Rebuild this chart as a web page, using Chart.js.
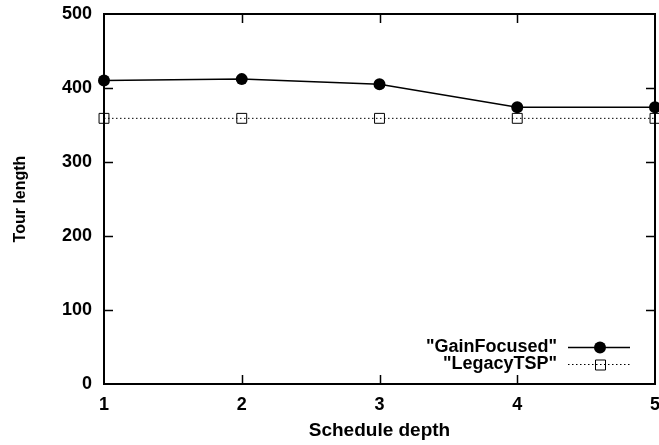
<!DOCTYPE html>
<html>
<head>
<meta charset="utf-8">
<script src="https://cdn.jsdelivr.net/npm/chart.js@4/dist/chart.umd.min.js"></script>
<style>
  html, body { margin: 0; padding: 0; background: #fff; }
  #wrap { width: 659px; height: 445px; }
</style>
</head>
<body>
<div id="wrap"><canvas id="tourChart" width="659" height="445"></canvas></div>
<script>
// schedule depth vs tour length
const depths = [1, 2, 3, 4, 5];
const gainFocused = [410, 412, 405, 374, 374];
const legacyTSP = [359, 359, 359, 359, 359];
const yTicks = [0, 100, 200, 300, 400, 500];

const FONT = 'Liberation Sans, Arial, Helvetica, sans-serif';

// gnuplot-style box: frame on all sides, ticks pointing inward
const framePlugin = {
    id: 'frame',
    afterDatasetsDraw(chart) {
        const { ctx, chartArea: a, scales: { x, y } } = chart;
        ctx.save();
        ctx.strokeStyle = '#000';
        ctx.lineWidth = 2;
        ctx.beginPath();
        ctx.moveTo(a.left, a.top);
        ctx.lineTo(a.right, a.top);
        ctx.lineTo(a.right, a.bottom);
        ctx.stroke();

        ctx.lineWidth = 1.5;
        const len = 9;
        ctx.beginPath();
        x.ticks.forEach(t => {
            if (t.value <= x.min || t.value >= x.max) return;
            const px = Math.round(x.getPixelForValue(t.value)) + 0.5;
            ctx.moveTo(px, a.bottom); ctx.lineTo(px, a.bottom - len);
            ctx.moveTo(px, a.top); ctx.lineTo(px, a.top + len);
        });
        y.ticks.forEach(t => {
            if (t.value <= y.min || t.value >= y.max) return;
            const py = Math.round(y.getPixelForValue(t.value)) + 0.5;
            ctx.moveTo(a.left, py); ctx.lineTo(a.left + len, py);
            ctx.moveTo(a.right, py); ctx.lineTo(a.right - len, py);
        });
        ctx.stroke();
        ctx.restore();
    }
};

// key in the lower right: label right-aligned, sample to its right
const keyPlugin = {
    id: 'key',
    afterDraw(chart) {
        const { ctx } = chart;
        const textRight = 557, lineL = 568, lineR = 630, mid = 600;
        const rows = [347, 364];
        ctx.save();
        ctx.font = 'bold 18px ' + FONT;
        ctx.textAlign = 'right';
        ctx.textBaseline = 'middle';
        chart.data.datasets.forEach((ds, i) => {
            const yy = rows[i] + 0.5;
            ctx.fillStyle = '#000';
            ctx.fillText('"' + ds.label + '"', textRight, yy);
            ctx.strokeStyle = ds.borderColor;
            ctx.lineWidth = ds.borderWidth;
            ctx.setLineDash(ds.borderDash || []);
            ctx.beginPath();
            ctx.moveTo(lineL, yy);
            ctx.lineTo(lineR, yy);
            ctx.stroke();
            ctx.setLineDash([]);
            ctx.fillStyle = ds.pointBackgroundColor;
            ctx.strokeStyle = ds.pointBorderColor;
            ctx.lineWidth = ds.pointBorderWidth;
            ctx.beginPath();
            if (ds.pointStyle === 'circle') {
                ctx.arc(mid, yy, ds.pointRadius, 0, Math.PI * 2);
                ctx.fill();
            } else {
                const s = ds.pointRadius * Math.SQRT1_2;
                ctx.rect(Math.round(mid - s) + 0.5, Math.round(yy - s), Math.round(2 * s), Math.round(2 * s));
                ctx.stroke();
            }
        });
        ctx.restore();
    }
};

new Chart(document.getElementById('tourChart'), {
    type: 'line',
    data: {
        datasets: [
            {
                label: 'GainFocused',
                data: depths.map((d, i) => ({ x: d, y: gainFocused[i] })),
                borderColor: '#000',
                borderWidth: 1.5,
                pointStyle: 'circle',
                pointRadius: 6,
                pointBorderWidth: 0,
                pointBackgroundColor: '#000',
                pointBorderColor: '#000',
                clip: false
            },
            {
                label: 'LegacyTSP',
                data: depths.map((d, i) => ({ x: d, y: legacyTSP[i] })),
                borderColor: '#000',
                borderWidth: 1,
                borderDash: [1.5, 2.5],
                pointStyle: 'rect',
                pointRadius: 7,
                pointBorderWidth: 1,
                pointBackgroundColor: 'rgba(0,0,0,0)',
                pointBorderColor: '#000',
                clip: false
            }
        ]
    },
    options: {
        responsive: false,
        animation: false,
        layout: { autoPadding: false, padding: { top: 14, right: 4, left: 0, bottom: 0 } },
        plugins: { legend: { display: false }, tooltip: { enabled: false } },
        scales: {
            x: {
                type: 'linear',
                min: 1, max: 5,
                border: { display: true, color: '#000', width: 2 },
                grid: { display: false, drawTicks: false },
                ticks: {
                    stepSize: 1,
                    padding: 10,
                    color: '#000',
                    font: { family: FONT, size: 18, weight: 'bold' }
                },
                title: {
                    display: true,
                    text: 'Schedule depth',
                    color: '#000',
                    font: { family: FONT, size: 19, weight: 'bold' },
                    padding: { top: 0, bottom: 3 }
                },
                afterFit(s) { s.height = 61; s.paddingLeft = 0; s.paddingRight = 0; }
            },
            y: {
                min: 0, max: 500,
                border: { display: true, color: '#000', width: 2 },
                grid: { display: false, drawTicks: false },
                afterBuildTicks(s) { s.ticks = yTicks.map(v => ({ value: v })); },
                ticks: {
                    padding: 12,
                    color: '#000',
                    font: { family: FONT, size: 18, weight: 'bold' }
                },
                title: {
                    display: true,
                    text: 'Tour length',
                    color: '#000',
                    font: { family: FONT, size: 16, weight: 'bold' },
                    padding: { top: 11, bottom: 0 }
                },
                afterFit(s) { s.width = 104; s.paddingTop = 0; s.paddingBottom = 0; }
            }
        }
    },
    plugins: [framePlugin, keyPlugin]
});
</script>
</body>
</html>
